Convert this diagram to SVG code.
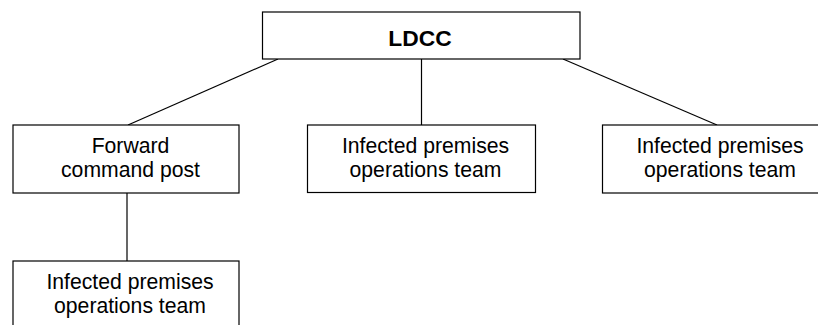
<svg xmlns="http://www.w3.org/2000/svg" width="818" height="325" viewBox="0 0 818 325">
  <style>
    .box { fill: #ffffff; stroke: #000000; stroke-width: 1.2; }
    .link { stroke: #000000; stroke-width: 1.2; fill: none; }
    .label { font-family: "Liberation Sans", Arial, sans-serif; font-size: 21.2px; fill: #000000; text-anchor: middle; }
    .title { font-family: "Liberation Sans", Arial, sans-serif; font-size: 22.8px; font-weight: bold; fill: #000000; text-anchor: middle; }
  </style>
  <rect width="818" height="325" fill="#ffffff"/>

  <!-- connectors -->
  <g id="connectors">
    <line class="link" x1="278" y1="59" x2="128" y2="125"/>
    <line class="link" x1="421.5" y1="59" x2="421.5" y2="125"/>
    <line class="link" x1="563" y1="59" x2="717" y2="125"/>
    <line class="link" x1="127" y1="193" x2="127" y2="261"/>
  </g>

  <g id="ldcc">
    <rect class="box" x="262.5" y="12" width="317.5" height="47"/>
    <text class="title" x="420" y="46">LDCC</text>
  </g>

  <g id="forward-command-post">
    <rect class="box" x="13" y="125" width="226" height="68"/>
    <text class="label" x="130.5" y="153.3">Forward</text>
    <text class="label" x="130.5" y="176.7">command post</text>
  </g>

  <g id="ip-team-centre">
    <rect class="box" x="307.5" y="125" width="228" height="67.5"/>
    <text class="label" x="425.5" y="153.3">Infected premises</text>
    <text class="label" x="425.5" y="176.7">operations team</text>
  </g>

  <g id="ip-team-right">
    <rect class="box" x="602.5" y="125" width="234" height="68"/>
    <text class="label" x="720" y="153.3">Infected premises</text>
    <text class="label" x="720" y="176.7">operations team</text>
  </g>

  <g id="ip-team-forward">
    <rect class="box" x="13" y="261" width="226" height="68"/>
    <text class="label" x="130" y="289">Infected premises</text>
    <text class="label" x="130" y="312.5">operations team</text>
  </g>
</svg>
